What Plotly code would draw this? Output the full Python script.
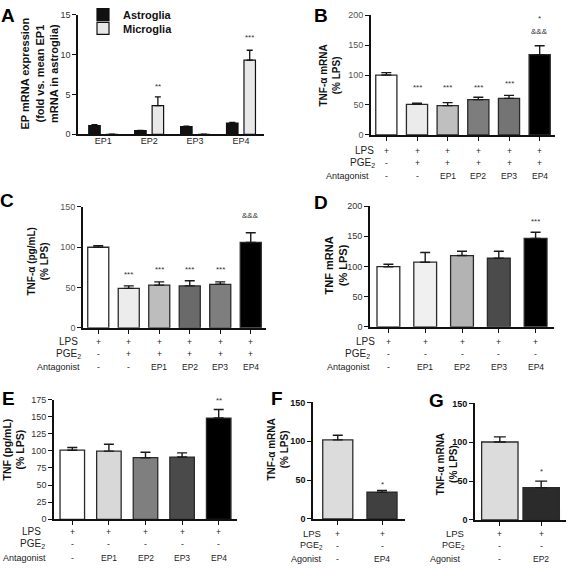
import plotly.graph_objects as go

W, H = 567, 570
FONT = "Arial, Liberation Sans, Helvetica, sans-serif"

# ---------------- DATA ----------------
# Panel A
A_cats = ["EP1", "EP2", "EP3", "EP4"]
A_astro = [1.1, 0.45, 0.95, 1.4]
A_astro_err = [0.12, 0.05, 0.08, 0.1]
A_micro = [0, 3.6, 0, 9.3]
A_micro_err = [0, 1.1, 0, 1.25]
A_sig = ["", "**", "", "***"]

# Panel B  TNF-a mRNA (% LPS)
B_vals = [100, 51, 49, 59, 61, 134]
B_err = [4, 2, 5, 4, 5, 15]
B_sig = ["", "***", "***", "***", "***", "&&&"]
B_sig2 = ["", "", "", "", "", "*"]
B_lps = ["+", "+", "+", "+", "+", "+"]
B_pge = ["-", "+", "+", "+", "+", "+"]
B_ant = ["-", "-", "EP1", "EP2", "EP3", "EP4"]

# Panel C  TNF-a (pg/mL) (% LPS)
C_vals = [100, 49, 53, 52, 54, 106]
C_err = [2, 3, 4, 6.5, 3, 12]
C_sig = ["", "***", "***", "***", "***", "&&&"]
C_lps = ["+", "+", "+", "+", "+", "+"]
C_pge = ["-", "+", "+", "+", "+", "+"]
C_ant = ["-", "-", "EP1", "EP2", "EP3", "EP4"]

# Panel D  TNF mRNA (% LPS)
D_vals = [99.5, 107, 118, 113.5, 146.5]
D_err = [4, 16, 7, 11.5, 10]
D_sig = ["", "", "", "", "***"]
D_lps = ["+", "+", "+", "+", "+"]
D_pge = ["-", "-", "-", "-", "-"]
D_ant = ["-", "EP1", "EP2", "EP3", "EP4"]

# Panel E  TNF (pg/mL) (% LPS)
E_vals = [101, 99.6, 90, 91, 148]
E_err = [4, 10, 8, 6, 12.5]
E_sig = ["", "", "", "", "**"]
E_lps = ["+", "+", "+", "+", "+"]
E_pge = ["-", "-", "-", "-", "-"]
E_ant = ["-", "EP1", "EP2", "EP3", "EP4"]

# Panel F  TNF-a mRNA (% LPS), agonist
F_vals = [101.8, 34.4]
F_err = [6, 2.5]
F_sig = ["", "*"]
F_lps = ["+", "+"]
F_pge = ["-", "-"]
F_ago = ["-", "EP4"]

# Panel G
G_vals = [100.4, 41.6]
G_err = [6.6, 8.4]
G_sig = ["", "*"]
G_lps = ["+", "+"]
G_pge = ["-", "-"]
G_ago = ["-", "EP2"]

# ---------------- HELPERS ----------------
def fx(p):
    return p / W


def fy(p):
    return 1 - p / H


fig = go.Figure()
annotations = []
LEG_FONT = dict(size=11, family=FONT, weight="bold", color="#111")
layout = dict(
    width=W, height=H, margin=dict(l=0, r=0, t=0, b=0, pad=0),
    paper_bgcolor="white", plot_bgcolor="white",
    font=dict(family=FONT, color="#222"),
    barmode="overlay", showlegend=True,
    legend=dict(x=fx(83), y=fy(-7), xanchor="left", yanchor="top",
                font=LEG_FONT, bgcolor="rgba(0,0,0,0)", itemwidth=30),
    legend2=dict(x=fx(83), y=fy(7), xanchor="left", yanchor="top",
                 font=LEG_FONT, bgcolor="rgba(0,0,0,0)", itemwidth=30),
)

LINE_C = "#111"


def axis_pair(i, xpx, ypx, yrange, dtick, xrange=None, tickfont=None, xcats=None):
    xs = "xaxis" if i == 1 else f"xaxis{i}"
    ys = "yaxis" if i == 1 else f"yaxis{i}"
    yid = "y" if i == 1 else f"y{i}"
    xid = "x" if i == 1 else f"x{i}"
    tf = tickfont or dict(size=9, family=FONT, color="#333")
    xa = dict(domain=[fx(xpx[0]), fx(xpx[1])], anchor=yid, showgrid=False,
              zeroline=False, showline=True, linecolor=LINE_C, linewidth=1.6,
              fixedrange=True)
    if xcats is None:
        xa.update(type="linear", range=list(xrange), tickmode="array",
                  tickvals=list(range(int(round(xrange[1] + 0.5)))),
                  showticklabels=False, ticks="outside", ticklen=4,
                  tickwidth=1.3, tickcolor=LINE_C)
    else:
        xa.update(type="category", range=list(xrange), ticks="", ticklen=0,
                  ticklabelstandoff=-3, color="#222",
                  tickfont=dict(size=9, family=FONT, color="#222"))
    ya = dict(domain=[fy(ypx[1]), fy(ypx[0])], anchor=xid, range=list(yrange),
              dtick=dtick, tick0=0, showgrid=False, zeroline=False,
              showline=True, linecolor=LINE_C, linewidth=1.6, ticks="outside",
              ticklen=4, tickwidth=1.3, tickcolor=LINE_C, tickfont=tf,
              fixedrange=True)
    layout[xs] = xa
    layout[ys] = ya
    return xid, yid


def add_bars(xid, yid, vals, err, colors, width, cap=5, line_c="#2a2a2a"):
    n = len(vals)
    fig.add_trace(go.Bar(x=list(range(n)), y=vals, xaxis=xid, yaxis=yid, width=width,
                         marker=dict(color=colors, line=dict(color=line_c, width=1.3)),
                         error_y=dict(type="data", array=err, arrayminus=[0] * n,
                                      symmetric=False, color="#1a1a1a", thickness=1.4,
                                      width=cap),
                         showlegend=False, hoverinfo="skip"))


def sig(xid, yid, xs, texts, ys, size=8):
    for x, t, y in zip(xs, texts, ys):
        if t:
            annotations.append(dict(x=x, y=y, xref=xid, yref=yid, text=t,
                                    showarrow=False, yanchor="middle",
                                    font=dict(size=size, family=FONT, color="#333")))


def rows(xid, rowspec):
    # rowspec: list of (label, values, y_px, label_right_px, label_size)
    for label, values, ypx, rpx, lsize in rowspec:
        annotations.append(dict(x=fx(rpx), y=fy(ypx), xref="paper", yref="paper",
                                text=label, showarrow=False, xanchor="right",
                                yanchor="middle",
                                font=dict(size=lsize, family=FONT, color="#222")))
        for j, v in enumerate(values):
            annotations.append(dict(x=j, y=fy(ypx), xref=xid, yref="paper",
                                    text=v, showarrow=False, yanchor="middle",
                                    font=dict(size=8.5, family=FONT, color="#222")))


def ytitle(text, xpx, ypx, size, bold=True):
    annotations.append(dict(x=fx(xpx), y=fy(ypx), xref="paper", yref="paper",
                            text=text, showarrow=False, textangle=-90,
                            xanchor="center", yanchor="middle",
                            font=dict(size=size, family=FONT, color="#111",
                                      weight="bold" if bold else "normal")))


def letter(t, xpx, ypx):
    annotations.append(dict(x=fx(xpx), y=fy(ypx), xref="paper", yref="paper",
                            text=t, showarrow=False, xanchor="center",
                            yanchor="middle",
                            font=dict(size=19, family=FONT, color="#000",
                                      weight="bold")))


# ---------------- PANEL A ----------------
xa, ya = axis_pair(1, (78, 264), (8, 130), (0, 15), 5, xrange=(-0.55, 3.5),
                   xcats=A_cats)
fig.add_trace(go.Bar(x=A_cats, y=A_astro, xaxis=xa, yaxis=ya, width=0.25,
                     offset=-0.316, name="Astroglia", legend="legend",
                     marker=dict(color="#111111", line=dict(color="#111", width=1.2)),
                     error_y=dict(type="data", array=A_astro_err, arrayminus=[0] * 4,
                                  symmetric=False, color="#111", thickness=1.3, width=3),
                     hoverinfo="skip"))
fig.add_trace(go.Bar(x=A_cats, y=A_micro, xaxis=xa, yaxis=ya, width=0.25,
                     offset=0.064, name="Microglia", legend="legend2",
                     marker=dict(color="#e8e8e8", line=dict(color="#111", width=1.2)),
                     error_y=dict(type="data", array=A_micro_err, arrayminus=[0] * 4,
                                  symmetric=False, color="#111", thickness=1.3, width=3),
                     hoverinfo="skip"))
sig(xa, ya, [i + 0.19 for i in range(4)], A_sig, [6.0, 6.0, 6.0, 12.2])
ytitle("EP mRNA expression<br>(fold vs. mean EP1<br>mRNA in astroglia)", 40, 68, 11)
letter("A", 8, 9)

# ---------------- PANEL B ----------------
xb, yb = axis_pair(2, (371, 555), (8.3, 130.7), (0, 200), 50, xrange=(-0.5, 5.5),
                   tickfont=dict(size=9, family=FONT, color="#555"))
add_bars(xb, yb, B_vals, B_err,
         ["#ffffff", "#ebebeb", "#bfbfbf", "#7d7d7d", "#747474", "#000000"], 0.69)
sig(xb, yb, range(6), B_sig, [80, 80, 80, 80, 86, 172])
sig(xb, yb, range(6), B_sig2, [0, 0, 0, 0, 0, 195])
ytitle("TNF-α mRNA<br>(% LPS)", 330, 70, 10)
letter("B", 321, 9)
rows(xb, [("LPS", B_lps, 147, 376, 10), ("PGE<sub>2</sub>", B_pge, 159, 377, 10),
          ("Antagonist", B_ant, 173, 371, 9)])

# ---------------- PANEL C ----------------
xc, yc = axis_pair(3, (83, 266), (204.3, 327.7), (0, 150), 50, xrange=(-0.5, 5.5),
                   tickfont=dict(size=9, family=FONT, color="#555"))
add_bars(xc, yc, C_vals, C_err,
         ["#ffffff", "#ececec", "#bdbdbd", "#6a6a6a", "#7e7e7e", "#000000"], 0.69)
sig(xc, yc, range(6), C_sig, [66, 66, 72, 72, 72, 139])
ytitle("TNF-α (pg/mL)<br>(% LPS)", 38, 260, 10)
letter("C", 7, 198)
rows(xc, [("LPS", C_lps, 342, 80, 10), ("PGE<sub>2</sub>", C_pge, 354, 83, 10),
          ("Antagonist", C_ant, 368, 82, 9)])

# ---------------- PANEL D ----------------
xd, yd = axis_pair(4, (370, 554), (203.3, 326.7), (0, 200), 50, xrange=(-0.5, 4.5),
                   tickfont=dict(size=9, family=FONT, color="#333"))
add_bars(xd, yd, D_vals, D_err,
         ["#ffffff", "#f0f0f0", "#b3b3b3", "#4b4b4b", "#000000"], 0.62)
sig(xd, yd, range(5), D_sig, [0, 0, 0, 0, 174])
ytitle("TNF mRNA<br>(% LPS)", 336, 264, 11)
letter("D", 321, 200)
rows(xd, [("LPS", D_lps, 342, 377, 10), ("PGE<sub>2</sub>", D_pge, 354, 372, 10),
          ("Antagonist", D_ant, 368, 372, 9)])

# ---------------- PANEL E ----------------
xe, ye = axis_pair(5, (54, 237), (401, 523.3), (0, 175), 25, xrange=(-0.5, 4.5),
                   tickfont=dict(size=9, family=FONT, color="#333"))
add_bars(xe, ye, E_vals, E_err,
         ["#ffffff", "#d8d8d8", "#7f7f7f", "#4a4a4a", "#000000"], 0.67)
sig(xe, ye, range(5), E_sig, [0, 0, 0, 0, 174])
ytitle("TNF (pg/mL)<br>(% LPS)", 14, 452, 10.5)
letter("E", 8, 400)
rows(xe, [("LPS", E_lps, 536, 43, 10), ("PGE<sub>2</sub>", E_pge, 549, 47, 10),
          ("Antagonist", E_ant, 563, 48, 9)])

# ---------------- PANEL F ----------------
xf, yf = axis_pair(6, (313, 405), (404, 523), (0, 150), 50, xrange=(-0.56, 1.52),
                   tickfont=dict(size=9, family=FONT, color="#111", weight="bold"))
add_bars(xf, yf, F_vals, F_err, ["#dcdcdc", "#404040"], 0.68, cap=5)
sig(xf, yf, range(2), F_sig, [0, 45])
ytitle("TNF-α mRNA<br>(% LPS)", 278, 452, 10)
letter("F", 277, 400)
rows(xf, [("LPS", F_lps, 538, 323, 9.5), ("PGE<sub>2</sub>", F_pge, 550.5, 325, 9),
          ("Agonist", F_ago, 563.5, 324, 9)])

# ---------------- PANEL G ----------------
xg, yg = axis_pair(7, (475, 566), (405, 524), (0, 150), 50, xrange=(-0.6, 1.6),
                   tickfont=dict(size=9, family=FONT, color="#111", weight="bold"))
add_bars(xg, yg, G_vals, G_err, ["#dcdcdc", "#2b2b2b"], 0.88, cap=6)
sig(xg, yg, range(2), G_sig, [0, 62])
ytitle("TNF-α mRNA<br>(% LPS)", 447, 467, 10)
letter("G", 436, 402)
rows(xg, [("LPS", G_lps, 538, 466, 9.5), ("PGE<sub>2</sub>", G_pge, 550.5, 467, 9),
          ("Agonist", G_ago, 563.5, 463, 9)])

layout["annotations"] = annotations
fig.update_layout(**layout)
fig.write_html(
    "out.html",
    config={"displayModeBar": False},
    post_script="document.body.style.margin='0px';document.body.style.padding='0px';"
                "document.documentElement.style.margin='0px';",
)
